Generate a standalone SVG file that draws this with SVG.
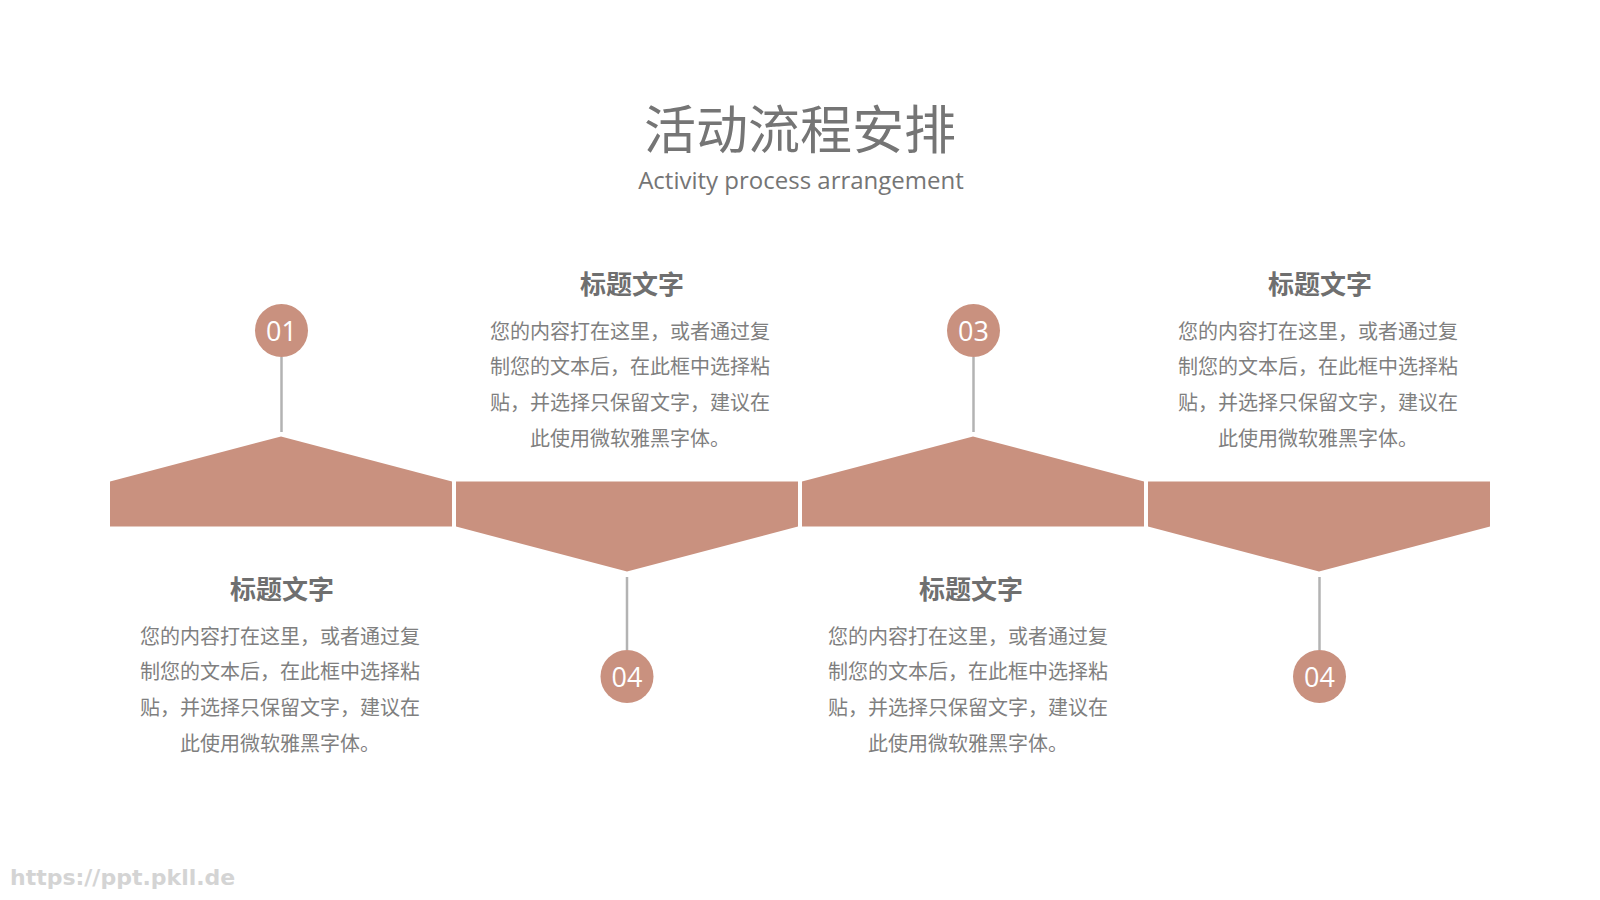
<svg xmlns="http://www.w3.org/2000/svg" width="1600" height="900" viewBox="0 0 1600 900">
<style>
.shape{fill:#c9917f}
.stem{stroke:#b3b3b3;stroke-width:2.5;fill:none}
.dot{fill:#c9917f}
.num{font-family:"Open Sans","Noto Sans",sans-serif;font-size:27px;fill:#ffffff;text-anchor:middle;dominant-baseline:central}
.head{font-family:"Noto Sans CJK SC",sans-serif;font-size:26px;font-weight:bold;fill:#6f6f6f;text-anchor:middle;dominant-baseline:central}
.body{font-family:"Noto Sans CJK SC",sans-serif;font-size:20px;fill:#7f7f7f;text-anchor:middle;dominant-baseline:central}
</style>
<rect width="1600" height="900" fill="#ffffff"/>
<g id="title">
<text x="800" y="126" font-family="Noto Sans CJK SC,sans-serif" font-size="52" fill="#757575" text-anchor="middle" dominant-baseline="central">活动流程安排</text>
<text x="801" y="179" font-family="Open Sans,Noto Sans,sans-serif" font-size="24" fill="#757575" text-anchor="middle" dominant-baseline="central">Activity process arrangement</text>
</g>
<g id="shapes">
<polygon id="shape1" class="shape" points="110,481.5 281,436.5 452,481.5 452,526.5 110,526.5"/>
<polygon id="shape2" class="shape" points="456,481.5 798,481.5 798,526.5 627,571.5 456,526.5"/>
<polygon id="shape3" class="shape" points="802,481.5 973,436.5 1144,481.5 1144,526.5 802,526.5"/>
<polygon id="shape4" class="shape" points="1148,481.5 1490,481.5 1490,526.5 1319,571.5 1148,526.5"/>
</g>
<g id="connectors">
<line class="stem" x1="281.5" y1="357" x2="281.5" y2="432"/>
<line class="stem" x1="627" y1="577" x2="627" y2="650"/>
<line class="stem" x1="973.5" y1="357" x2="973.5" y2="432"/>
<line class="stem" x1="1319.5" y1="577" x2="1319.5" y2="650"/>
</g>
<g id="node1">
<circle class="dot" cx="281.5" cy="330.5" r="26.5"/>
<text class="num" x="281.5" y="330.5">01</text>
<text class="head" x="282" y="587">标题文字</text>
<text class="body" x="280" y="635">您的内容打在这里，或者通过复</text>
<text class="body" x="280" y="670.5">制您的文本后，在此框中选择粘</text>
<text class="body" x="280" y="706">贴，并选择只保留文字，建议在</text>
<text class="body" x="280" y="742">此使用微软雅黑字体。</text>
</g>
<g id="node2">
<circle class="dot" cx="627" cy="676.5" r="26.5"/>
<text class="num" x="627" y="676.5">04</text>
<text class="head" x="632" y="282">标题文字</text>
<text class="body" x="630" y="330">您的内容打在这里，或者通过复</text>
<text class="body" x="630" y="365.5">制您的文本后，在此框中选择粘</text>
<text class="body" x="630" y="401">贴，并选择只保留文字，建议在</text>
<text class="body" x="630" y="437">此使用微软雅黑字体。</text>
</g>
<g id="node3">
<circle class="dot" cx="973.5" cy="330.5" r="26.5"/>
<text class="num" x="973.5" y="330.5">03</text>
<text class="head" x="971" y="587">标题文字</text>
<text class="body" x="968" y="635">您的内容打在这里，或者通过复</text>
<text class="body" x="968" y="670.5">制您的文本后，在此框中选择粘</text>
<text class="body" x="968" y="706">贴，并选择只保留文字，建议在</text>
<text class="body" x="968" y="742">此使用微软雅黑字体。</text>
</g>
<g id="node4">
<circle class="dot" cx="1319.5" cy="676.5" r="26.5"/>
<text class="num" x="1319.5" y="676.5">04</text>
<text class="head" x="1320" y="282">标题文字</text>
<text class="body" x="1318" y="330">您的内容打在这里，或者通过复</text>
<text class="body" x="1318" y="365.5">制您的文本后，在此框中选择粘</text>
<text class="body" x="1318" y="401">贴，并选择只保留文字，建议在</text>
<text class="body" x="1318" y="437">此使用微软雅黑字体。</text>
</g>
<g id="watermark">
<text x="10" y="877" font-family="DejaVu Sans,sans-serif" font-size="22" font-weight="bold" fill="#d4d4d4" dominant-baseline="central">https://ppt.pkll.de</text>
</g>
</svg>
